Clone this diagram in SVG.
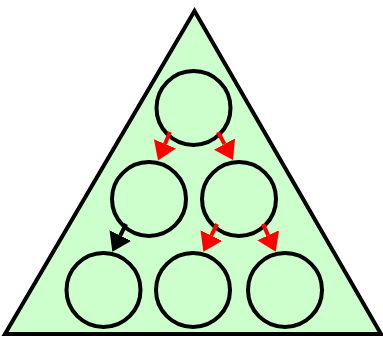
<svg xmlns="http://www.w3.org/2000/svg" width="383" height="338" viewBox="0 0 383 338">
<style>
.c{fill:#ccffcc;stroke:#000;stroke-width:4}
.red{stroke:#ff0000;stroke-width:4;fill:none}
.blk{stroke:#000;stroke-width:4;fill:none}
</style>
<defs>
<marker id="ar" viewBox="0 0 18 24" refX="0" refY="12" markerWidth="18" markerHeight="24" markerUnits="userSpaceOnUse" orient="auto"><path d="M0,0 L18,12 L0,24 z" fill="#ff0000"/></marker>
<marker id="ab" viewBox="0 0 18 24" refX="0" refY="12" markerWidth="18" markerHeight="24" markerUnits="userSpaceOnUse" orient="auto"><path d="M0,0 L18,12 L0,24 z" fill="#000"/></marker>
</defs>
<g id="triangle"><polygon points="5,334 194.5,11 381,334" fill="#ccffcc" stroke="#000" stroke-width="4" stroke-linejoin="miter"/></g>
<g id="n1"><circle class="c" cx="193.5" cy="108" r="37"/></g>
<g id="n2"><circle class="c" cx="149" cy="199" r="37"/></g>
<g id="n3"><circle class="c" cx="239" cy="199" r="37"/></g>
<g id="n4"><circle class="c" cx="103.5" cy="290" r="37"/></g>
<g id="n5"><circle class="c" cx="193" cy="290" r="37"/></g>
<g id="n6"><circle class="c" cx="285" cy="290" r="37"/></g>
<g id="connectors">
<line class="red" x1="170" y1="132" x2="165" y2="143.9" marker-end="url(#ar)"/>
<line class="red" x1="218" y1="132" x2="224.5" y2="144.1" marker-end="url(#ar)"/>
<line class="blk" x1="126" y1="224" x2="120.3" y2="235.6" marker-end="url(#ab)"/>
<line class="red" x1="217" y1="224" x2="211.3" y2="235.6" marker-end="url(#ar)"/>
<line class="red" x1="263" y1="224" x2="268.2" y2="235.3" marker-end="url(#ar)"/>
</g>
</svg>
